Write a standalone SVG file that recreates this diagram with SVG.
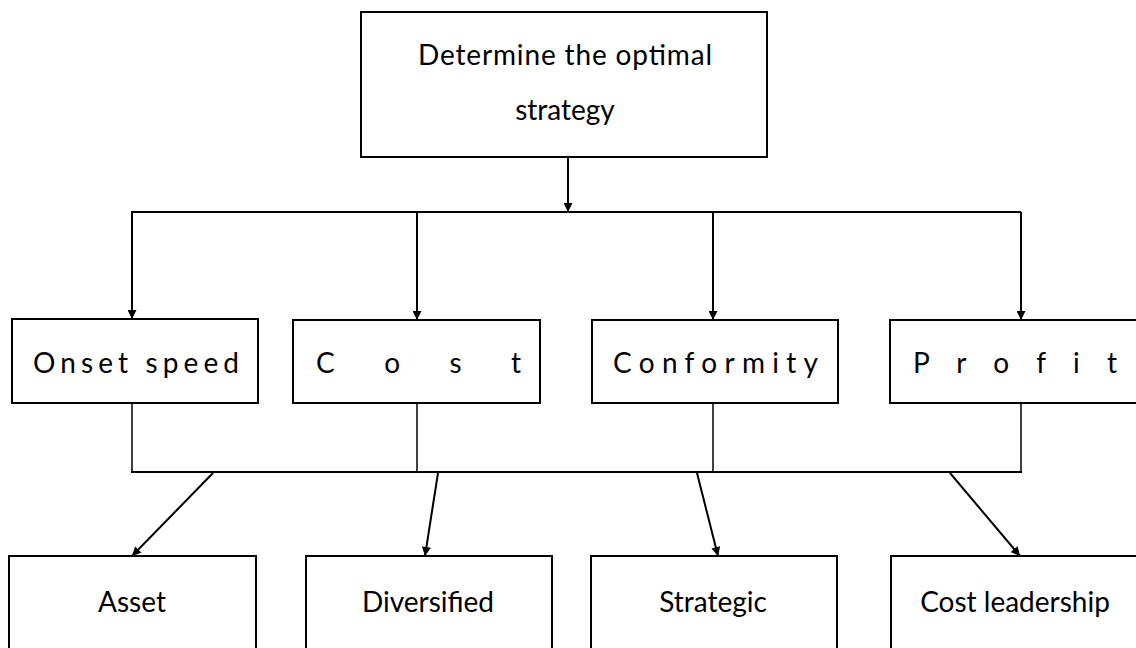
<svg xmlns="http://www.w3.org/2000/svg" width="1136" height="648" viewBox="0 0 1136 648">
<style>
.box{fill:#fff;stroke:#000;stroke-width:2}
.t{font-family:Lato,"Open Sans","Liberation Sans",sans-serif;font-size:28px;fill:#000;text-anchor:middle}
.ts{font-family:Lato,"Open Sans","Liberation Sans",sans-serif;font-size:28px;fill:#000}
.c{fill:none;stroke:#000;stroke-width:2}
.cl{fill:none;stroke:#000;stroke-width:1.5}
</style>
<defs>
<marker id="ah" viewBox="0 0 10 10" refX="10" refY="5" markerWidth="10" markerHeight="9" markerUnits="userSpaceOnUse" orient="auto">
<path d="M0,0 L10,5 L0,10 z" fill="#000"/>
</marker>
</defs>
<rect width="1136" height="648" fill="#fff"/>
<g id="connectors">
<line class="c" x1="568" y1="157" x2="568" y2="212" marker-end="url(#ah)"/>
<line class="c" x1="131" y1="212" x2="1021" y2="212"/>
<line class="c" x1="132" y1="212" x2="132" y2="319" marker-end="url(#ah)"/>
<line class="c" x1="417" y1="212" x2="417" y2="320" marker-end="url(#ah)"/>
<line class="c" x1="713" y1="212" x2="713" y2="320" marker-end="url(#ah)"/>
<line class="c" x1="1021" y1="212" x2="1021" y2="320" marker-end="url(#ah)"/>
<line class="cl" x1="132" y1="403" x2="132" y2="472"/>
<line class="cl" x1="417" y1="403" x2="417" y2="472"/>
<line class="cl" x1="713" y1="403" x2="713" y2="472"/>
<line class="cl" x1="1021" y1="403" x2="1021" y2="472"/>
<line class="c" x1="131" y1="472" x2="1022" y2="472"/>
<line class="c" x1="213" y1="473" x2="132" y2="556" marker-end="url(#ah)"/>
<line class="c" x1="438" y1="473" x2="425" y2="556" marker-end="url(#ah)"/>
<line class="c" x1="697" y1="473" x2="718" y2="556" marker-end="url(#ah)"/>
<line class="c" x1="950" y1="473" x2="1020" y2="556" marker-end="url(#ah)"/>
</g>
<g id="top">
<rect class="box" x="361" y="12" width="406" height="145"/>
<text class="t" x="565" y="65" textLength="294" lengthAdjust="spacing">Determine the optimal</text>
<text class="t" x="565" y="120">strategy</text>
</g>
<g id="onset">
<rect class="box" x="12" y="319" width="246" height="84"/>
<text class="ts" x="33" y="373" textLength="206" lengthAdjust="spacing">Onset speed</text>
</g>
<g id="cost">
<rect class="box" x="293" y="320" width="247" height="83"/>
<text class="ts" x="316" y="373" textLength="205" lengthAdjust="spacing">C o s t</text>
</g>
<g id="conformity">
<rect class="box" x="592" y="320" width="246" height="83"/>
<text class="ts" x="613" y="373" textLength="205" lengthAdjust="spacing">Conformity</text>
</g>
<g id="profit">
<rect class="box" x="890" y="320" width="250" height="83"/>
<text class="ts" x="913" y="373" textLength="204" lengthAdjust="spacing">P r o f i t</text>
</g>
<g id="asset">
<rect class="box" x="9" y="556" width="247" height="120"/>
<text class="t" x="132" y="612">Asset</text>
</g>
<g id="diversified">
<rect class="box" x="306" y="556" width="246" height="120"/>
<text class="t" x="428" y="612">Diversified</text>
</g>
<g id="strategic">
<rect class="box" x="591" y="556" width="246" height="120"/>
<text class="t" x="713" y="612">Strategic</text>
</g>
<g id="costleadership">
<rect class="box" x="891" y="556" width="250" height="120"/>
<text class="t" x="1015" y="612">Cost leadership</text>
</g>
</svg>
